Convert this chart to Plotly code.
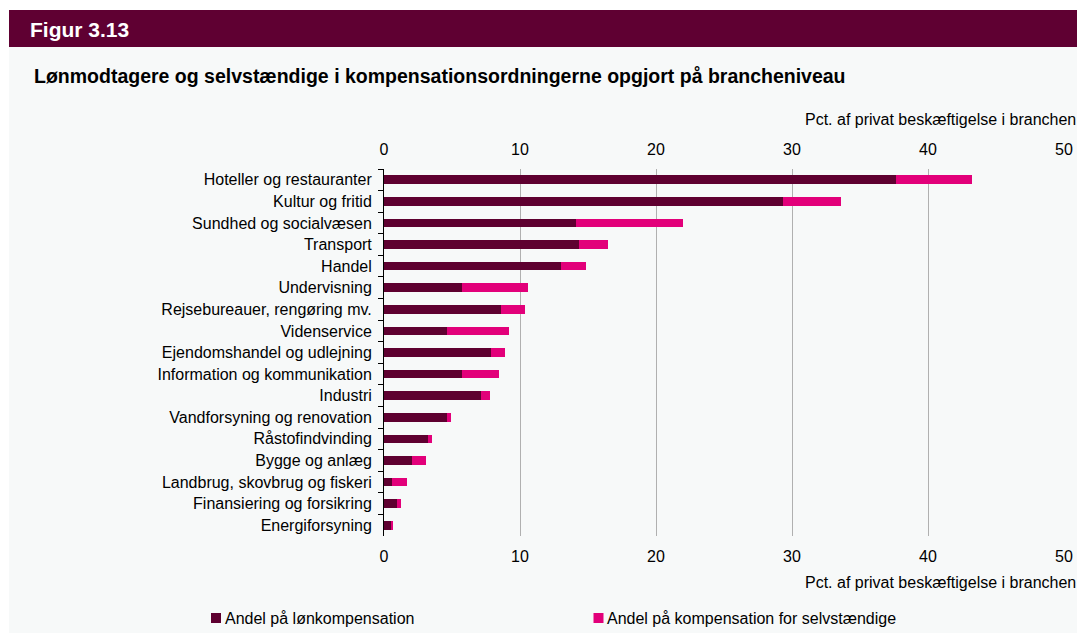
import plotly.graph_objects as go

categories = [
    "Hoteller og restauranter", "Kultur og fritid", "Sundhed og socialvæsen",
    "Transport", "Handel", "Undervisning", "Rejsebureauer, rengøring mv.",
    "Videnservice", "Ejendomshandel og udlejning", "Information og kommunikation",
    "Industri", "Vandforsyning og renovation", "Råstofindvinding",
    "Bygge og anlæg", "Landbrug, skovbrug og fiskeri", "Finansiering og forsikring",
    "Energiforsyning",
]
loen = [37.65, 29.37, 14.1, 14.33, 13.03, 5.72, 8.6, 4.62, 7.86, 5.7, 7.1, 4.62, 3.22, 2.06, 0.56, 0.93, 0.56]
selv = [5.61, 4.23, 7.88, 2.12, 1.82, 4.9, 1.77, 4.55, 1.01, 2.73, 0.72, 0.34, 0.32, 1.01, 1.13, 0.32, 0.1]
xticks = [0, 10, 20, 30, 40, 50]
series_names = ["Andel på lønkompensation", "Andel på kompensation for selvstændige"]
axis_title = "Pct. af privat beskæftigelse i branchen"
fig_title = "Figur 3.13"
subtitle = "Lønmodtagere og selvstændige i kompensationsordningerne opgjort på brancheniveau"

DARK = "#5e0030"
PINK = "#e2007a"
FONT = "Liberation Sans, Arial, sans-serif"

# the page body has an 8px margin; coordinates below are reference pixels
OFF = 8
W, H = 1085 - OFF, 633 - OFF
L, R, T, B = 384 - OFF, 21, 169 - OFF, 97
pw, ph = W - L - R, H - T - B


def px(p):
    return (p - OFF - L) / pw


def py(q):
    return (H - B - (q - OFF)) / ph


fig = go.Figure()
fig.add_trace(go.Bar(y=categories, x=loen, orientation="h", name=series_names[0],
                     marker=dict(color=DARK, line=dict(width=0)), showlegend=False))
fig.add_trace(go.Bar(y=categories, x=selv, orientation="h", name=series_names[1],
                     marker=dict(color=PINK, line=dict(width=0)), showlegend=False))
# invisible trace to activate the top axis
fig.add_trace(go.Scatter(x=[0, 50], y=[categories[0], categories[0]], xaxis="x2", mode="markers",
                         marker=dict(opacity=0, size=1), showlegend=False, hoverinfo="skip"))

shapes = [
    dict(type="rect", xref="paper", yref="paper", x0=px(9), x1=px(1090), y0=py(47), y1=py(640),
         fillcolor="#f7f9f9", line=dict(width=0), layer="below"),
    dict(type="rect", xref="paper", yref="paper", x0=px(9), x1=px(1090), y0=py(10), y1=py(47),
         fillcolor="#5f0032", line=dict(width=0), layer="below"),
    # legend swatches
    dict(type="rect", xref="paper", yref="paper", x0=px(211), x1=px(221), y0=py(613), y1=py(623),
         fillcolor=DARK, line=dict(width=0)),
    dict(type="rect", xref="paper", yref="paper", x0=px(593.5), x1=px(603.5), y0=py(613), y1=py(623),
         fillcolor=PINK, line=dict(width=0)),
]

annotations = [
    dict(text="<b>" + fig_title + "</b>", xref="paper", yref="paper", x=px(28), y=py(29.5),
         xanchor="left", yanchor="middle", showarrow=False, font=dict(family=FONT, size=21, color="white")),
    dict(text="<b>" + subtitle + "</b>", xref="paper", yref="paper", x=px(32), y=py(76),
         xanchor="left", yanchor="middle", showarrow=False, font=dict(family=FONT, size=19.5, color="black")),
    dict(text=axis_title, xref="paper", yref="paper", x=px(1078), y=py(119),
         xanchor="right", yanchor="middle", showarrow=False, font=dict(family=FONT, size=16, color="black")),
    dict(text=axis_title, xref="paper", yref="paper", x=px(1078), y=py(582),
         xanchor="right", yanchor="middle", showarrow=False, font=dict(family=FONT, size=16, color="black")),
    dict(text=series_names[0], xref="paper", yref="paper", x=px(222.5), y=py(618.5),
         xanchor="left", yanchor="middle", showarrow=False, font=dict(family=FONT, size=16, color="black")),
    dict(text=series_names[1], xref="paper", yref="paper", x=px(605), y=py(618.5),
         xanchor="left", yanchor="middle", showarrow=False, font=dict(family=FONT, size=16, color="black")),
]

fig.update_layout(
    width=W, height=H, barmode="stack", bargap=0.6,
    margin=dict(l=L, r=R, t=T, b=B, autoexpand=False),
    paper_bgcolor="white", plot_bgcolor="rgba(0,0,0,0)",
    font=dict(family=FONT, size=16, color="black"),
    shapes=shapes, annotations=annotations, showlegend=False,
    xaxis=dict(range=[0, 50], tickvals=xticks, showgrid=True, gridcolor="#b0b0b0", gridwidth=1,
               zeroline=False, showline=False, ticks="", ticklabelstandoff=9,
               tickfont=dict(size=16)),
    xaxis2=dict(range=[0, 50], tickvals=xticks, overlaying="x", side="top", showgrid=False,
                zeroline=False, showline=False, ticks="", ticklabelstandoff=10,
                tickfont=dict(size=16)),
    yaxis=dict(range=[len(categories) - 0.5, -0.5], autorange=False, type="category",
               showline=True, linecolor="black", linewidth=1,
               ticks="outside", tickson="boundaries", ticklen=5, tickcolor="black",
               tickfont=dict(size=16), ticklabelstandoff=8),
)

fig.write_html("out.html")
